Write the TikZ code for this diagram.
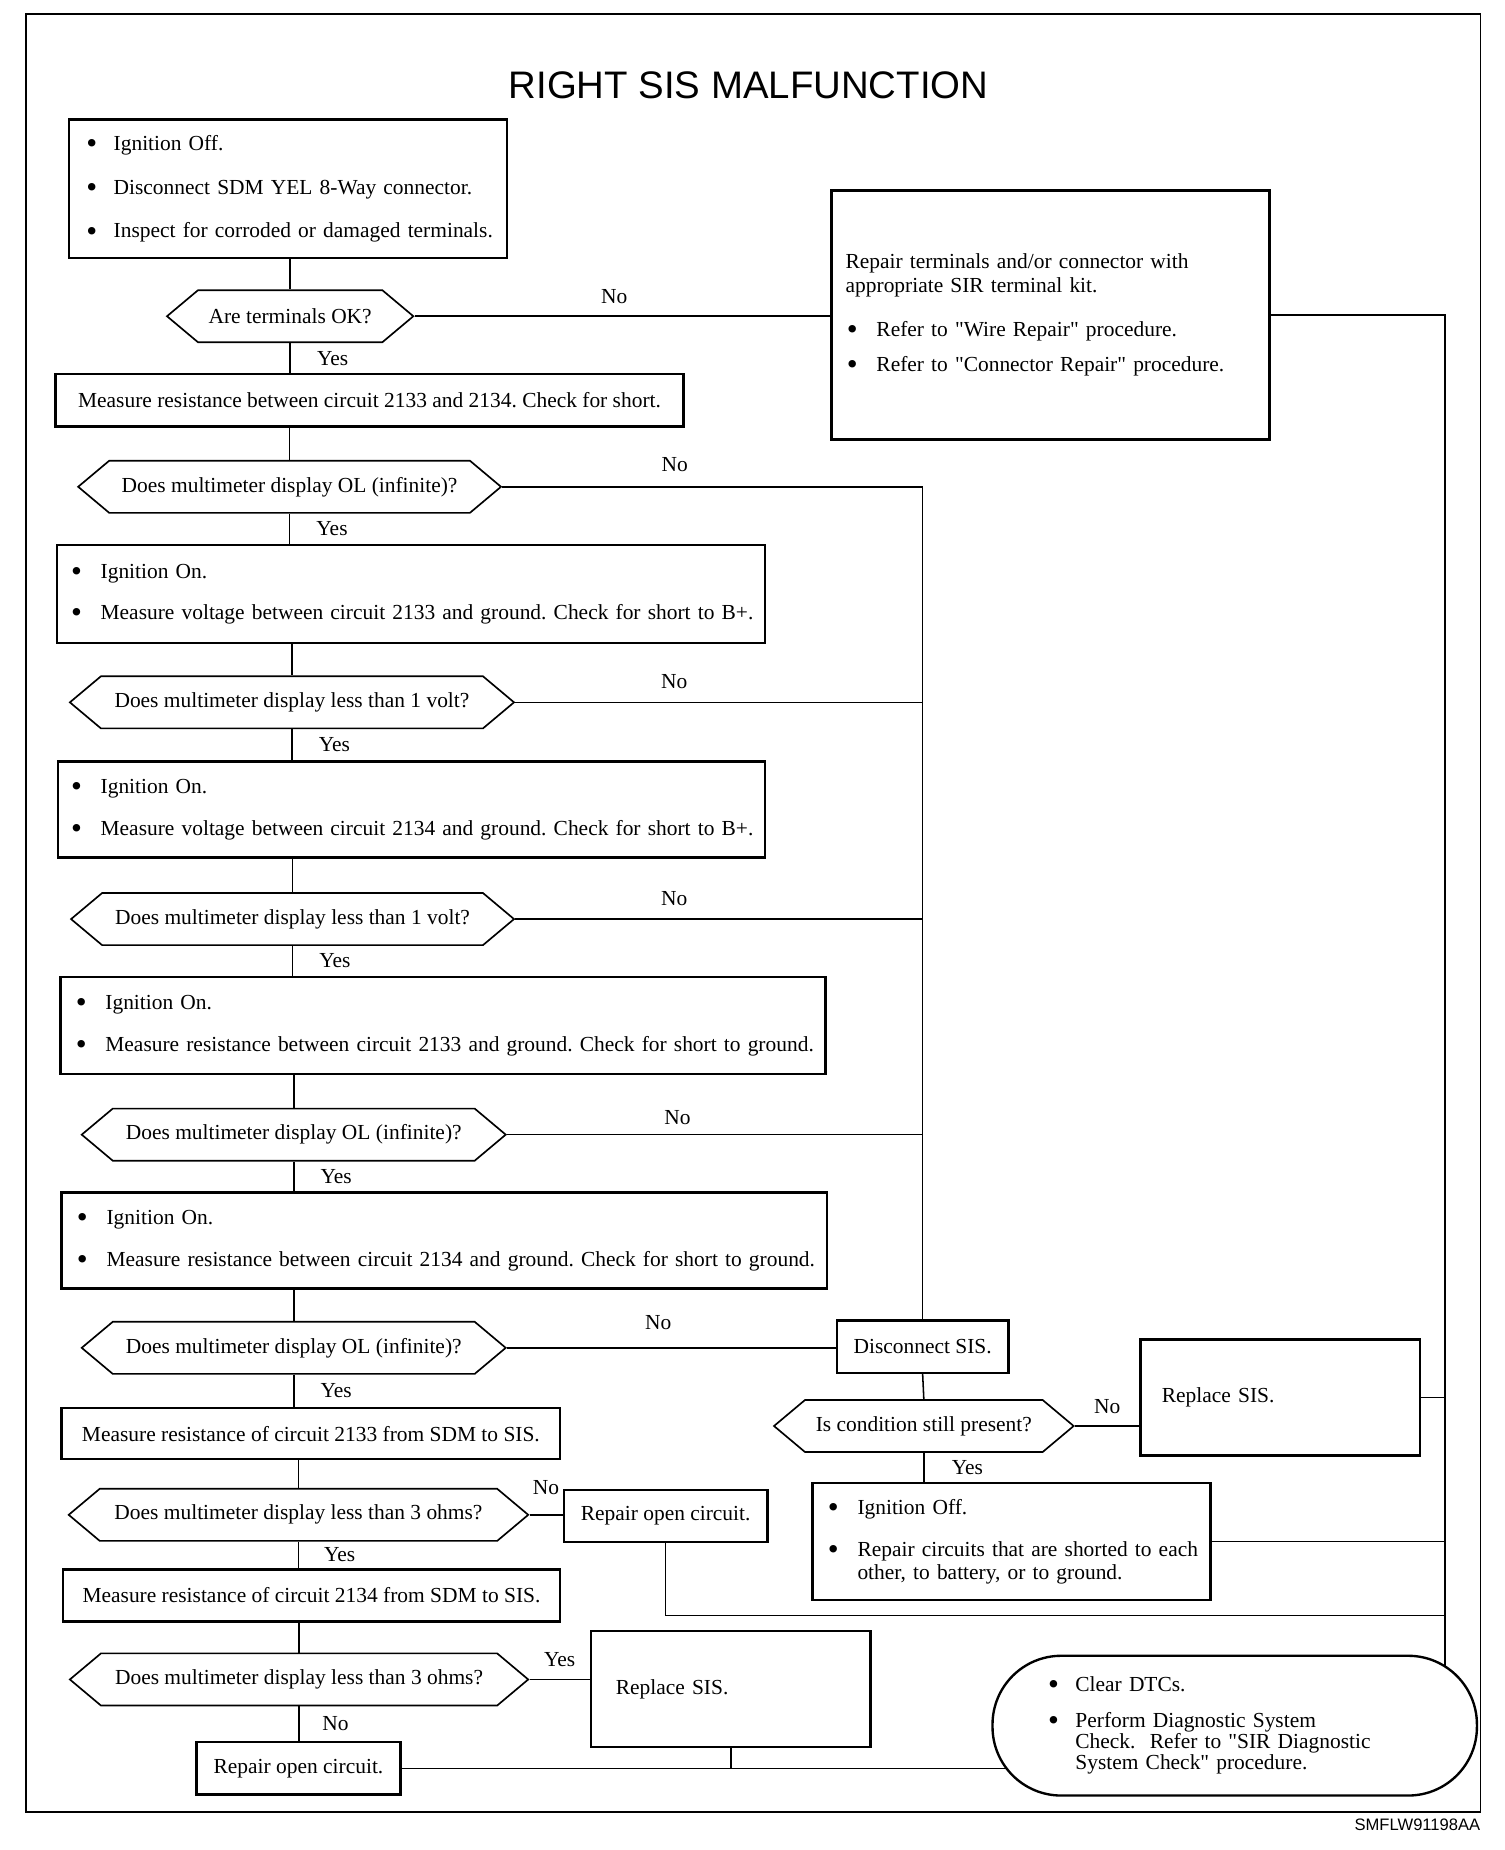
\documentclass[tikz,border=0pt]{standalone}
\usepackage{fontspec}
\setmainfont{Liberation Serif}
\newfontfamily\titlefont{Liberation Sans}
\usetikzlibrary{shapes.symbols}
\pgfdeclarelayer{bg}
\pgfsetlayers{bg,main}
\newcommand\mybul[2][24pt]{\mbox{\makebox[#1][l]{\hspace*{-1pt}\raisebox{-2.6pt}{\scalebox{1.45}{\textbullet}}}#2}}
\newcommand\qq{\textquotedbl}
\frenchspacing
\begin{document}
\begin{tikzpicture}[x=1pt,y=-1pt,
  every node/.style={font=\fontsize{18.1}{21}\selectfont},
  box/.style={draw, line width=2pt, inner ysep=0pt, align=left},
  sbox/.style={draw, line width=2pt, inner sep=0pt, align=center},
  hexa/.style={draw, line width=1.4pt, shape=signal, signal to=west and east,
    signal pointer angle=80, minimum height=44pt, inner sep=0pt},
  conn/.style={line width=1.3pt},
  lbl/.style={inner sep=0pt}]
\useasboundingbox (0,0) rectangle (1270,1562);
\draw[line width=1.5pt] (22,12) rectangle (1250,1530);

\node (title) at (632,72) {\titlefont\fontsize{32.4}{36}\selectfont RIGHT SIS MALFUNCTION};
\node[anchor=east, inner sep=0pt] (code) at (1250,1541) {\titlefont\fontsize{14}{16}\selectfont SMFLW91198AA};

% left column
\node[box, minimum width=370pt, minimum height=117pt, inner xsep=16pt, text width=338pt] (a) at (243,159.5)
 {\mybul[22pt]{Ignition Off.}\\[16pt]\mybul[22pt]{Disconnect SDM YEL 8-Way connector.}\\[16pt]\mybul[22pt]{Inspect for corroded or damaged terminals.}};
\node[hexa, minimum width=208pt] (d1) at (245,267) {Are terminals OK?};
\node[sbox, minimum width=530pt, minimum height=44pt] (b) at (312,338) {Measure resistance between circuit 2133 and 2134. Check for short.};
\node[hexa, minimum width=357pt] (d2) at (244.5,411) {Does multimeter display OL (infinite)?};
\node[box, minimum width=598pt, minimum height=83pt, inner xsep=13pt, text width=572pt] (c) at (347,501.5)
 {\mybul{Ignition On.}\\[14pt]\mybul{Measure voltage between circuit 2133 and ground. Check for short to B+.}};
\node[hexa, minimum width=375pt] (d3) at (246.5,593) {Does multimeter display less than 1 volt?};
\node[box, minimum width=597pt, minimum height=81pt, inner xsep=12pt, text width=573pt] (e) at (347.5,683.5)
 {\mybul{Ignition On.}\\[14pt]\mybul{Measure voltage between circuit 2134 and ground. Check for short to B+.}};
\node[hexa, minimum width=374pt] (d4) at (247,776) {Does multimeter display less than 1 volt?};
\node[box, minimum width=646pt, minimum height=82pt, inner xsep=14pt, text width=618pt] (f) at (374,866)
 {\mybul{Ignition On.}\\[14pt]\mybul{Measure resistance between circuit 2133 and ground. Check for short to ground.}};
\node[hexa, minimum width=358pt] (d5) at (248,958) {Does multimeter display OL (infinite)?};
\node[box, minimum width=646pt, minimum height=81pt, inner xsep=14pt, text width=618pt] (g) at (375,1047.5)
 {\mybul{Ignition On.}\\[14pt]\mybul{Measure resistance between circuit 2134 and ground. Check for short to ground.}};
\node[hexa, minimum width=358pt] (d6) at (248,1138) {Does multimeter display OL (infinite)?};
\node[sbox, minimum width=421pt, minimum height=43pt] (h) at (262.5,1210.5) {Measure resistance of circuit 2133 from SDM to SIS.};
\node[hexa, minimum width=388pt] (d7) at (252,1279) {Does multimeter display less than 3 ohms?};
\node[sbox, minimum width=172pt, minimum height=44pt] (ro1) at (562,1280) {Repair open circuit.};
\node[sbox, minimum width=420pt, minimum height=44pt] (i) at (263,1347) {Measure resistance of circuit 2134 from SDM to SIS.};
\node[hexa, minimum width=387pt] (d8) at (252.5,1418) {Does multimeter display less than 3 ohms?};
\node[box, minimum width=236pt, minimum height=98pt, inner xsep=21pt, text width=194pt] (rs2) at (617,1426)
 {Replace SIS.\par\vspace{12pt}};
\node[sbox, minimum width=172pt, minimum height=44pt] (ro2) at (252,1493) {Repair open circuit.};

% right column
\node[box, minimum width=370pt, minimum height=210pt, inner xsep=12pt, text width=346pt,
      font=\fontsize{18.1}{20}\selectfont] (r1) at (887,266)
 {Repair terminals and/or connector with\\appropriate SIR terminal kit.\\[17pt]
  \hspace*{2pt}\mybul{Refer to \qq Wire Repair\qq{} procedure.}\\[10pt]
  \hspace*{2pt}\mybul{Refer to \qq Connector Repair\qq{} procedure.}};
\node[sbox, minimum width=145pt, minimum height=44pt] (disc) at (779,1137) {Disconnect SIS.};
\node[hexa, minimum width=253pt] (d9) at (780,1204) {Is condition still present?};
\node[box, minimum width=236pt, minimum height=98pt, inner xsep=18pt, text width=200pt] (rs1) at (1081,1180) {Replace SIS.};
\node[box, minimum width=336pt, minimum height=99pt, inner xsep=14pt, text width=308pt,
      font=\fontsize{18.1}{19}\selectfont] (j) at (854,1301.5)
 {\mybul{Ignition Off.}\\[17pt]\mybul{Repair circuits that are shorted to each}\\\hspace*{24pt}other, to battery, or to ground.};
\node[draw, fill=white, line width=2pt, rounded corners=58pt, minimum width=409pt, minimum height=118pt,
      inner xsep=48pt, inner ysep=0pt, text width=313pt, align=left,
      font=\fontsize{18.1}{18}\selectfont] (term) at (1042.5,1457)
 {\mybul[22pt]{Clear DTCs.}\\[12pt]\mybul[22pt]{Perform Diagnostic System}\\\hspace*{22pt}Check.\ \ Refer to \qq SIR Diagnostic\\\hspace*{22pt}System Check\qq{} procedure.};

\coordinate (rx) at (1220,1457);

% spine connectors
\draw[conn] (a.south -| d1.north) -- (d1.north);
\draw[conn] (d1.south) -- (d1.south |- b.north) node[lbl, midway, right=22pt] {Yes};
\draw[conn] (b.south -| d2.north) -- (d2.north);
\draw[conn] (d2.south) -- (d2.south |- c.north) node[lbl, midway, right=22pt] {Yes};
\draw[conn] (c.south -| d3.north) -- (d3.north);
\draw[conn] (d3.south) -- (d3.south |- e.north) node[lbl, midway, right=22pt] {Yes};
\draw[conn] (e.south -| d4.north) -- (d4.north);
\draw[conn] (d4.south) -- (d4.south |- f.north) node[lbl, midway, right=22pt] {Yes};
\draw[conn] (f.south -| d5.north) -- (d5.north);
\draw[conn] (d5.south) -- (d5.south |- g.north) node[lbl, midway, right=22pt] {Yes};
\draw[conn] (g.south -| d6.north) -- (d6.north);
\draw[conn] (d6.south) -- (d6.south |- h.north) node[lbl, midway, right=22pt] {Yes};
\draw[conn] (h.south -| d7.north) -- (d7.north);
\draw[conn] (d7.south) -- (d7.south |- i.north) node[lbl, midway, right=21pt] {Yes};
\draw[conn] (i.south -| d8.north) -- (d8.north);
\draw[conn] (d8.south) -- (d8.south |- ro2.north) node[lbl, midway, right=19pt] {No};

% No branches
\draw[conn] (d1.east) -- (d1.east -| r1.west) node[lbl, pos=0.48, above=10pt] {No};
\draw[conn] (d2.east) -- (d2.east -| disc.north) node[lbl, pos=0.41, above=12pt] {No};
\draw[conn] (d2.east -| disc.north) -- (disc.north);
\draw[conn] (d3.east) -- (d3.east -| disc.north) node[lbl, pos=0.39, above=11pt] {No};
\draw[conn] (d4.east) -- (d4.east -| disc.north) node[lbl, pos=0.39, above=11pt] {No};
\draw[conn] (d5.east) -- (d5.east -| disc.north) node[lbl, pos=0.41, above=8pt] {No};
\draw[conn] (d6.east) -- (d6.east -| disc.west) node[lbl, pos=0.46, above=15pt] {No};
\draw[conn] (d7.east) -- (d7.east -| ro1.west) node[lbl, midway, above=16pt] {No};
\draw[conn] (d8.east) -- (d8.east -| rs2.west) node[lbl, midway, above=10pt] {Yes};
\draw[conn] (disc.south) -- (d9.north);
\draw[conn] (d9.east) -- (d9.east -| rs1.west) node[lbl, midway, above=10pt] {No};
\draw[conn] (d9.south) -- (d9.south |- j.north) node[lbl, midway, right=23pt] {Yes};

% return lines
\begin{pgfonlayer}{bg}
\draw[conn] (r1.east) -| (rx);
\draw[conn] (ro2.east) -- (ro2.east -| term.center);
\end{pgfonlayer}
\draw[conn] (rs1.east) -- (rs1.east -| rx);
\draw[conn] (j.east) -- (j.east -| rx);
\draw[conn] (ro1.south) |- (rx |- 0,1364);
\draw[conn] (rs2.south) -- (rs2.south |- ro2.east);
\end{tikzpicture}
\end{document}
